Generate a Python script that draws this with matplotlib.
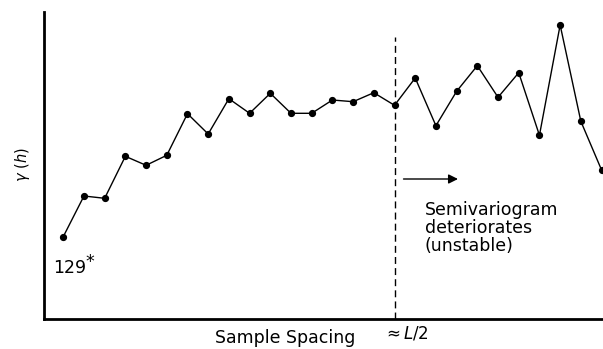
import numpy as np
import matplotlib.pyplot as plt

# semivariogram estimates at successive lag classes (arbitrary gamma units)
lags = np.arange(1, 28)
gamma = [82.3, 123.0, 120.7, 162.7, 153.7, 163.7, 205.3, 185.0, 220.3,
         205.7, 225.7, 205.7, 205.7, 219.0, 217.3, 226.3, 213.7, 241.0,
         193.3, 227.7, 253.3, 221.7, 246.3, 183.7, 294.0, 197.7, 149.0]
half_length_lag = 17

plt.rcParams['font.family'] = ['DejaVu Sans']

fig = plt.figure(figsize=(6.03, 3.49), dpi=100)
ax = fig.add_axes([44 / 603, 1 - 319 / 349, 1 - 44 / 603, 307 / 349])

ax.plot(lags, gamma, 'k-', lw=1.0, marker='o', ms=4.2)

# lag at about half the field length
ax.plot([half_length_lag, half_length_lag], [0, 282], 'k--', lw=1.0,
        dashes=(5, 3))
ax.annotate('', xy=(20.2, 140), xytext=(17.3, 140),
            arrowprops=dict(arrowstyle='-|>', color='k', lw=1.0,
                            mutation_scale=14))
ax.text(18.45, 118, 'Semivariogram\ndeteriorates\n(unstable)',
        fontsize=12.5, va='top', ha='left', linespacing=1.0)
ax.text(0.5, 51, '129', fontsize=12.5, va='center', ha='left')
ax.text(2.05, 57, '*', fontsize=12.5, va='center', ha='left')

ax.set_xlim(0.07, 27.07)
ax.set_ylim(0, 307)
ax.set_xticks([])
ax.set_yticks([])
for side in ['top', 'right']:
    ax.spines[side].set_visible(False)
for side in ['left', 'bottom']:
    ax.spines[side].set_linewidth(2)

fig.text(285 / 603, 1 - 338 / 349, 'Sample Spacing', fontsize=12.5,
         ha='center', va='center')
fig.text(406 / 603, 1 - 333 / 349, r'$\approx$$\it{L/2}$', fontsize=12,
         ha='center', va='center')
fig.text(23 / 603, 1 - 165 / 349, r'$\gamma$ ($\it{h}$)', fontsize=10.5,
         ha='center', va='center', rotation=90)

fig.savefig('out.png', dpi=100)
